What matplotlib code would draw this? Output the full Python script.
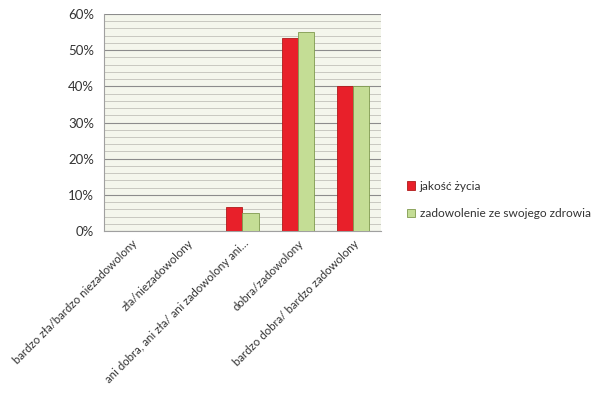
import numpy as np
import matplotlib.pyplot as plt
from matplotlib.ticker import MultipleLocator, PercentFormatter

plt.rcParams['font.family'] = ['Lato', 'DejaVu Sans']

categories = ["bardzo zła/bardzo niezadowolony",
              "zła/niezadowolony",
              "ani dobra, ani zła/ ani zadowolony ani…",
              "dobra/zadowolony",
              "bardzo dobra/ bardzo zadowolony"]
jakosc_zycia = [0, 0, 6.7, 53.3, 40]
zadowolenie_zdrowie = [0, 0, 5, 55, 40]

fig = plt.figure(figsize=(5.95, 3.94), dpi=100)
ax = fig.add_axes([104 / 595, 1 - 231 / 394, 277 / 595, 217 / 394])
ax.set_facecolor('#f4f6ec')

x = np.arange(len(categories))
w = 0.29
ax.bar(x - w / 2, jakosc_zycia, w, color='#e8202a', edgecolor='#b01a1a',
       linewidth=0.6, label='jakość życia', zorder=3)
ax.bar(x + w / 2, zadowolenie_zdrowie, w, color='#c4dd95', edgecolor='#7f9a4e',
       linewidth=0.6, label='zadowolenie ze swojego zdrowia', zorder=3)

ax.set_xlim(-0.5, len(categories) - 0.5)
ax.set_ylim(0, 60)
ax.yaxis.set_major_locator(MultipleLocator(10))
ax.yaxis.set_minor_locator(MultipleLocator(2))
ax.yaxis.set_major_formatter(PercentFormatter(decimals=0))
ax.grid(axis='y', which='major', color='#8c8c8c', linewidth=0.8, zorder=1)
ax.grid(axis='y', which='minor', color='#c8c8c0', linewidth=0.7, zorder=1)

for s in ['top', 'right']:
    ax.spines[s].set_visible(False)
ax.spines['left'].set_color('#a0a0a0')
ax.spines['bottom'].set_color('#a0a0a0')
ax.tick_params(axis='y', which='both', length=0, labelsize=9.5, colors='#333333', pad=7)
ax.tick_params(axis='x', length=0, labelsize=8.3, colors='#333333', pad=5)

ax.set_xticks(x)
ax.set_xticklabels(categories, rotation=45, ha='right', rotation_mode='anchor')

ax.legend(loc='center left', bbox_to_anchor=(396 / 595, 1 - 200 / 394),
          bbox_transform=fig.transFigure, frameon=False, fontsize=8.6,
          handlelength=0.7, handleheight=0.7, handletextpad=0.4, labelspacing=1.4,
          labelcolor='#333333')

fig.savefig('out.png', dpi=100)
